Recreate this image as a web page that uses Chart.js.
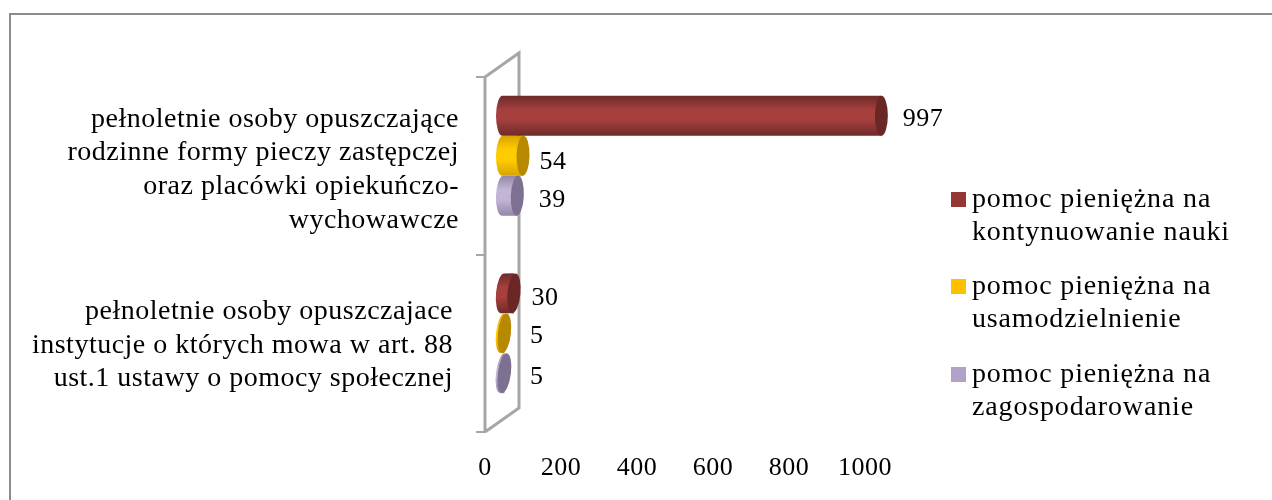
<!DOCTYPE html>
<html>
<head>
<meta charset="utf-8">
<style>
  html, body { margin:0; padding:0; background:#fff; }
  #wrap { position:relative; width:1272px; height:500px; }
</style>
<script src="https://cdn.jsdelivr.net/npm/chart.js@4"></script>
</head>
<body>
<div id="wrap"><canvas id="chart" width="1272" height="500"></canvas></div>
<script>
// data
const categories = [
  ['pełnoletnie osoby opuszczające', 'rodzinne formy pieczy zastępczej', 'oraz placówki opiekuńczo-', 'wychowawcze'],
  ['pełnoletnie osoby opuszczajace', 'instytucje o których mowa w art. 88', 'ust.1 ustawy o pomocy społecznej']
];
const nauka = [997, 30];
const usamodzielnienie = [54, 5];
const zagospodarowanie = [39, 5];
const xTicks = [0, 200, 400, 600, 800, 1000];

const seriesNames = [
  ['pomoc pieniężna na', 'kontynuowanie nauki'],
  ['pomoc pieniężna na', 'usamodzielnienie'],
  ['pomoc pieniężna na', 'zagospodarowanie']
];

// colours per series: swatch, dark edge, light middle, end cap
const palette = [
  { swatch:'#953735', edge:'#6e2a29', mid:'#a5403e', cap:'#6b2726' },
  { swatch:'#ffc000', edge:'#d9a300', mid:'#ffcc00', cap:'#b68900' },
  { swatch:'#b2a1c7', edge:'#9486a6', mid:'#c3b5d6', cap:'#7c7190' }
];

const FONT = '"Liberation Serif", serif';
const FONT_SIZE = 28;
const DIGIT_SIZE = 26;
const SPACING = '0.5px';
const LEGEND_SPACING = '0.85px';
const GREY = '#a6a6a6';

// 3D offsets: bars sit in the middle of the wall depth
const BAR_DX = 17.5, BAR_DY = -10, CAP_RX = 6.5;
const WALL_DX = 34, WALL_DY = -24;

// per label nudges, series then category
const labelNudge = [
  [[15, 3], [11, 5]],
  [[10, 6], [19, 3]],
  [[15, 4], [19, 4]]
];

function cylinder(ctx, bar, colors){
  const y = bar.y + BAR_DY, h = bar.height, ry = h / 2;
  const x0 = bar.base + BAR_DX, x1 = bar.x + BAR_DX;
  const tilt = (y - 110) * 0.0005;

  const g = ctx.createLinearGradient(0, y - ry, 0, y + ry);
  g.addColorStop(0, colors.edge);
  g.addColorStop(0.35, colors.mid);
  g.addColorStop(0.6, colors.mid);
  g.addColorStop(1, colors.edge);
  ctx.fillStyle = g;
  ctx.beginPath();
  ctx.ellipse(x0, y, CAP_RX, ry, tilt, Math.PI / 2, Math.PI * 1.5);
  ctx.lineTo(x1, y - ry);
  ctx.lineTo(x1, y + ry);
  ctx.closePath();
  ctx.fill();

  // the visible end of the tube
  ctx.beginPath();
  ctx.ellipse(x1, y, CAP_RX, ry, tilt, 0, Math.PI * 2);
  ctx.fillStyle = colors.cap;
  ctx.fill();
}

const look3d = {
  id: 'look3d',
  afterUpdate(chart){
    // the lower category sits further left in the original
    const items = chart.scales.y.getLabelItems();
    items.forEach((it, i) => {
      it.options.translation[0] -= i === 1 ? 24 : 18;
      it.options.translation[1] += i === 1 ? 2 : 4;
    });
  },
  beforeDraw(chart){
    const { ctx, chartArea:a } = chart;
    ctx.letterSpacing = SPACING;
    ctx.save();
    // frame, only top and left are inside the crop
    ctx.strokeStyle = '#8c8c8c';
    ctx.lineWidth = 2;
    ctx.beginPath();
    ctx.moveTo(10, 500);
    ctx.lineTo(10, 14);
    ctx.lineTo(1272, 14);
    ctx.stroke();
    // wall
    ctx.strokeStyle = GREY;
    ctx.lineWidth = 3;
    ctx.beginPath();
    ctx.moveTo(a.left, a.bottom);
    ctx.lineTo(a.left, a.top);
    ctx.lineTo(a.left + WALL_DX, a.top + WALL_DY);
    ctx.lineTo(a.left + WALL_DX, a.bottom + WALL_DY);
    ctx.lineTo(a.left, a.bottom);
    ctx.stroke();
    // category separators on the y axis
    ctx.lineWidth = 2;
    const span = (a.bottom - a.top) / categories.length;
    for(let i = 0; i <= categories.length; i++){
      const ty = Math.round(a.top + span * i);
      ctx.beginPath();
      ctx.moveTo(a.left - 9, ty);
      ctx.lineTo(a.left, ty);
      ctx.stroke();
    }
    ctx.restore();
  },
  beforeDatasetDraw(chart, args){
    const { ctx } = chart;
    ctx.save();
    args.meta.data.forEach(bar => cylinder(ctx, bar, palette[args.index]));
    ctx.restore();
    return false;
  },
  afterDatasetsDraw(chart){
    const { ctx } = chart;
    ctx.save();
    ctx.fillStyle = '#000';
    ctx.font = DIGIT_SIZE + 'px ' + FONT;
    ctx.textBaseline = 'middle';
    ctx.textAlign = 'left';
    // value labels
    chart.data.datasets.forEach((ds, s) => {
      chart.getDatasetMeta(s).data.forEach((bar, c) => {
        const [dx, dy] = labelNudge[s][c];
        ctx.fillText(ds.data[c], bar.x + BAR_DX + CAP_RX + dx, bar.y + BAR_DY + dy);
      });
    });
    // legend, two lines per entry
    ctx.font = FONT_SIZE + 'px ' + FONT;
    ctx.letterSpacing = LEGEND_SPACING;
    const legendY = [199, 286, 374];
    chart.data.datasets.forEach((ds, s) => {
      ctx.fillStyle = palette[s].swatch;
      ctx.fillRect(951, legendY[s] - 7, 15, 15);
      ctx.fillStyle = '#000';
      ds.label.forEach((line, l) => ctx.fillText(line, 972, legendY[s] + 1 + l * 33));
    });
    ctx.restore();
  }
};

const mkSet = (label, data) => ({ label, data, backgroundColor:'transparent', borderWidth:0, barPercentage:1, categoryPercentage:0.675 });

new Chart(document.getElementById('chart'), {
  type: 'bar',
  data: {
    labels: categories,
    datasets: [
      mkSet(seriesNames[0], nauka),
      mkSet(seriesNames[1], usamodzielnienie),
      mkSet(seriesNames[2], zagospodarowanie)
    ]
  },
  plugins: [look3d],
  options: {
    indexAxis: 'y',
    responsive: false,
    animation: false,
    layout: { padding: { top:77, right:407, left:0, bottom:0 } },
    plugins: { legend:{ display:false }, tooltip:{ enabled:false } },
    scales: {
      x: {
        min: 0, max: 1000,
        afterFit(s){ s.height = 68; },
        afterBuildTicks(s){ s.ticks = xTicks.map(value => ({ value })); },
        grid: { display:false },
        border: { display:false },
        ticks: { color:'#000', padding:13, maxRotation:0, callback:v => String(v), font:{ family:FONT, size:DIGIT_SIZE } }
      },
      y: {
        afterFit(s){ s.width = 485; },
        grid: { display:false },
        border: { display:false },
        ticks: { color:'#000', padding:0, autoSkip:false, font:{ family:FONT, size:FONT_SIZE, lineHeight:1.2 } }
      }
    }
  }
});
</script>
</body>
</html>
